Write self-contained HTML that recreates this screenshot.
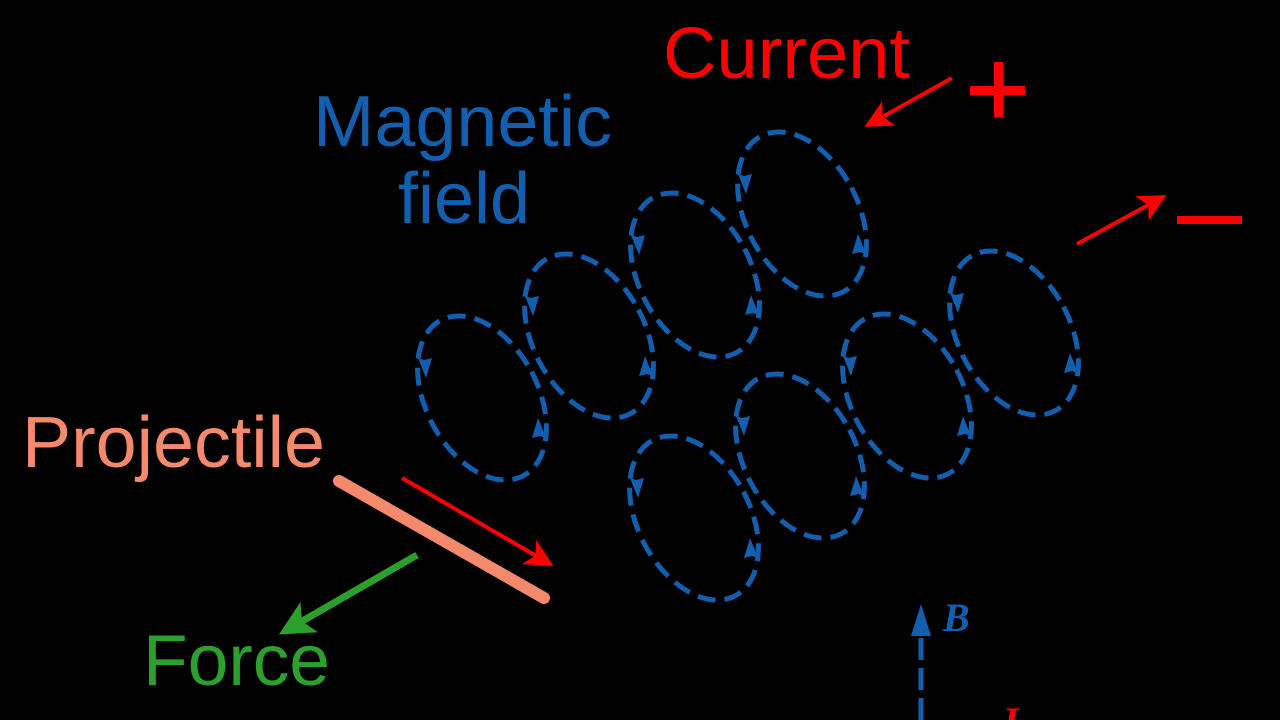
<!DOCTYPE html>
<html><head><meta charset="utf-8"><style>html,body{margin:0;padding:0;background:#000;}svg{display:block}</style></head>
<body>
<svg width="1280" height="720" viewBox="0 0 1280 720" xmlns="http://www.w3.org/2000/svg">
<defs>
<marker id="ar" markerWidth="7" markerHeight="7" refX="6" refY="3.5" orient="auto" markerUnits="strokeWidth"><path d="M0,0 L7,3.5 L0,7 L1.8,3.5 z" fill="#ff0000"/></marker>
<marker id="ag" markerWidth="5" markerHeight="5" refX="4" refY="2.5" orient="auto" markerUnits="strokeWidth"><path d="M0,0 L5,2.5 L0,5 L1.2,2.5 z" fill="#2ca02c"/></marker>
<g id="ell">
<ellipse cx="0" cy="0" rx="56" ry="88" transform="rotate(-28)" fill="none" stroke="#125fb0" stroke-width="5" stroke-dasharray="18,9"/>
<path d="M-58,-38 l-6,-2 l8,20 l6,-20 z" fill="#125fb0"/>
<path d="M58,38 l6,2 l-8,-20 l-6,20 z" fill="#125fb0"/>
</g>
</defs>
<rect width="1280" height="720" fill="#000"/>
<g>
<use href="#ell" x="482" y="398"/>
<use href="#ell" x="589" y="336"/>
<use href="#ell" x="695" y="275"/>
<use href="#ell" x="802" y="214"/>
<use href="#ell" x="694" y="518"/>
<use href="#ell" x="800" y="456"/>
<use href="#ell" x="907" y="396"/>
<use href="#ell" x="1014" y="333"/>
</g>
<g font-family="'Liberation Sans', sans-serif" font-size="72">
<text x="663" y="78" fill="#ff0000" textLength="247" lengthAdjust="spacingAndGlyphs">Current</text>
<text x="313" y="146" fill="#125fb0" textLength="299" lengthAdjust="spacingAndGlyphs">Magnetic</text>
<text x="398" y="223" fill="#125fb0">field</text>
<text x="22" y="467" fill="#f4896b" textLength="303" lengthAdjust="spacingAndGlyphs">Projectile</text>
<text x="143" y="685" fill="#2ca02c" textLength="187" lengthAdjust="spacingAndGlyphs">Force</text>
</g>
<rect x="970" y="86" width="55" height="9" fill="#ff0000"/>
<rect x="994" y="62" width="9" height="55" fill="#ff0000"/>
<rect x="1177" y="216" width="65" height="8" fill="#ff0000"/>
<line x1="952" y1="78" x2="868" y2="125" stroke="#ff0000" stroke-width="4" marker-end="url(#ar)"/>
<line x1="1077" y1="244" x2="1163" y2="197" stroke="#ff0000" stroke-width="4" marker-end="url(#ar)"/>
<line x1="402" y1="478" x2="550" y2="564" stroke="#ff0000" stroke-width="4" marker-end="url(#ar)"/>
<line x1="339" y1="481" x2="544" y2="598" stroke="#f4896b" stroke-width="12" stroke-linecap="round"/>
<line x1="417" y1="555" x2="285" y2="631" stroke="#2ca02c" stroke-width="7" marker-end="url(#ag)"/>
<line x1="921" y1="720" x2="921" y2="628" stroke="#125fb0" stroke-width="5" stroke-dasharray="22,8"/>
<path d="M911,636 L921,604 L931,636 Z" fill="#125fb0"/>
<text x="943" y="631" font-family="'Liberation Serif', serif" font-style="italic" font-weight="bold" font-size="40" fill="#125fb0">B</text>
<text x="1003" y="735" font-family="'Liberation Serif', serif" font-style="italic" font-weight="bold" font-size="40" fill="#ff0000">I</text>
</svg>
</body></html>
